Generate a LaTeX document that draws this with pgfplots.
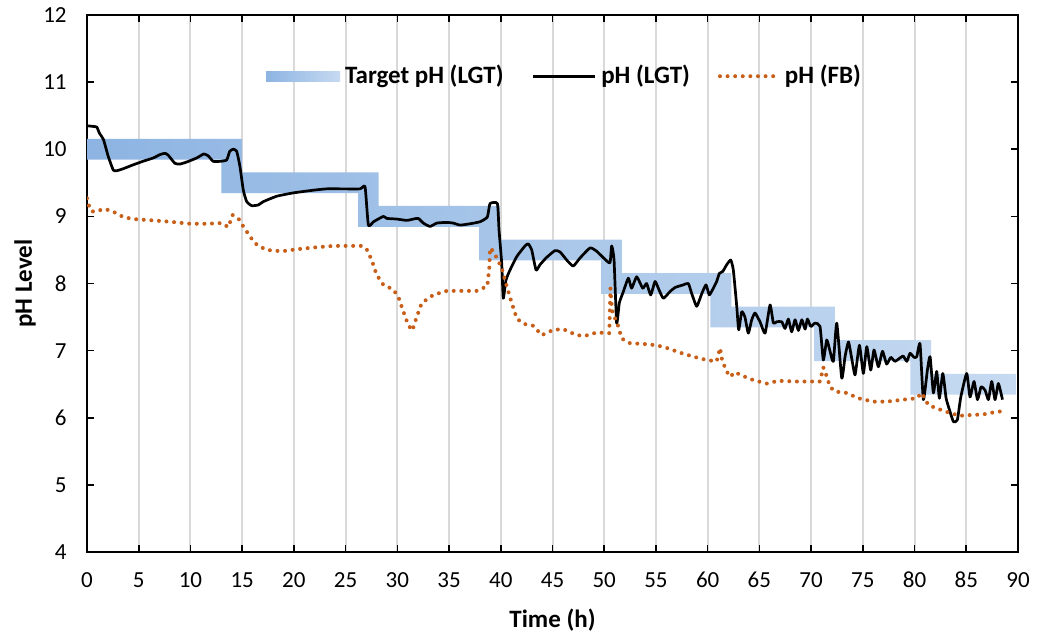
\documentclass[border=0pt]{standalone}
\usepackage{fontspec}
\setmainfont{Carlito}
\usepackage{pgfplots}
\pgfplotsset{compat=1.18}

\definecolor{bandL}{RGB}{141,180,226}
\definecolor{bandR}{RGB}{198,218,241}
\definecolor{fbOrange}{RGB}{200,95,25}
\definecolor{gridGray}{RGB}{217,217,217}

\begin{document}
\begin{tikzpicture}
\begin{axis}[
  scale only axis, width=465.5pt, height=268.5pt,
  xmin=0, xmax=90, ymin=4, ymax=12,
  xtick={0,5,...,90}, ytick={4,5,...,12},
  tick align=inside, major tick length=3.5pt,
  every tick/.style={black, line width=0.8pt},
  axis line style={black, line width=1pt},
  xmajorgrids,
  major x grid style={gridGray, line width=1pt},
  /pgf/number format/assume math mode=true,
  tick label style={font=\fontsize{11.5}{13}\selectfont, inner sep=0pt},
  xticklabel style={anchor=center, yshift=-14pt},
  yticklabel style={anchor=east, xshift=-10pt},
  label style={font=\bfseries\fontsize{12.5}{14}\selectfont},
  xlabel={Time (h)}, ylabel={pH Level},
  x label style={at={(axis description cs:0.5,-0.1266)}, anchor=center},
  y label style={at={(axis description cs:-0.0666,0.5)}, anchor=center},
  legend columns=3,
  legend style={at={(axis description cs:0.192,0.886)}, anchor=west,
    draw=none, fill=none, inner sep=0pt,
    font=\bfseries\fontsize{12.5}{14}\selectfont,
    nodes={inner sep=1pt},
    /tikz/every odd column/.append style={column sep=1.5pt},
    /tikz/every even column/.append style={column sep=13pt}},
]

% target pH band (stepped set-point, shaded left to right)
\addplot[draw=none, left color=bandL, right color=bandR,
  legend image code/.code={\shade[left color=bandL, right color=bandR] (0pt,-2.5pt) rectangle (37pt,2.5pt);}]
coordinates {
 (0,10.155) (15.0,10.155) (15.0,9.655) (28.2,9.655) (28.2,9.155)
 (39.9,9.155) (39.9,8.655) (51.7,8.655) (51.7,8.155) (62.3,8.155)
 (62.3,7.655) (72.3,7.655) (72.3,7.155) (81.6,7.155) (81.6,6.655)
 (89.8,6.655) (89.8,6.345) (79.6,6.345) (79.6,6.845) (70.3,6.845)
 (70.3,7.345) (60.25,7.345) (60.25,7.845) (49.7,7.845) (49.7,8.345)
 (37.9,8.345) (37.9,8.845) (26.2,8.845) (26.2,9.345) (13.0,9.345)
 (13.0,9.845) (0,9.845)
} -- cycle;
\addlegendentry{Target pH (LGT)}

% measured pH, LGT control
\addplot[black, line width=1.35pt, line join=round, mark=none, smooth, tension=0.3,
  legend image code/.code={\draw[black, line width=1.35pt] (0pt,0pt) -- (31pt,0pt);}]
coordinates {
 (0,10.35) (0.6,10.34) (0.95,10.33) (1.2,10.24) (1.6,10.14) (2.06,9.89)
 (2.54,9.69) (2.87,9.68) (3.5,9.71) (4.5,9.77) (5.4,9.82) (6.4,9.87)
 (7.06,9.92) (7.54,9.94) (7.86,9.91) (8.5,9.79) (9.0,9.78) (9.64,9.81)
 (10.6,9.87) (11.3,9.93) (11.73,9.90) (12.2,9.82) (12.86,9.82) (13.5,9.84)
 (13.8,9.97) (14.14,10.0) (14.47,9.97) (14.79,9.74) (15.11,9.39) (15.44,9.22)
 (15.92,9.16) (16.56,9.17) (17.05,9.22) (18.34,9.30) (19.95,9.35) (21.88,9.39)
 (23.17,9.41) (24.46,9.41) (26.39,9.41) (26.88,9.44) (27.2,8.87) (27.7,8.92)
 (28.65,9.00) (28.97,8.97) (29.94,8.96) (30.91,8.94) (31.55,8.96) (32.03,8.97)
 (32.51,8.90) (33.16,8.85) (33.81,8.90) (34.77,8.91) (35.4,8.90) (36.06,8.87)
 (37.03,8.89) (37.99,8.92) (38.7,8.99) (38.96,9.19) (39.67,9.19) (39.83,8.80)
 (40.09,8.30) (40.24,7.78) (40.5,8.05) (40.89,8.20) (41.54,8.40) (42.34,8.56)
 (42.66,8.59) (42.99,8.50) (43.41,8.20) (43.79,8.28) (44.44,8.39) (45.24,8.49)
 (45.73,8.47) (46.37,8.35) (47.0,8.26) (47.66,8.38) (48.63,8.53) (49.27,8.48)
 (50.08,8.36) (50.56,8.31) (50.72,8.56) (50.95,8.35) (51.2,7.41) (51.46,7.71)
 (51.85,7.88) (52.33,8.08) (52.65,7.93) (53.14,8.10) (53.72,7.93) (54.1,8.0)
 (54.49,7.83) (54.91,8.03) (55.23,7.93) (55.71,7.78) (56.36,7.88) (56.84,7.94)
 (57.65,7.98) (58.13,8.0) (58.46,7.85) (58.94,7.66) (59.43,7.85) (59.84,7.98)
 (60.16,7.83) (60.61,7.95) (60.87,8.03) (61.13,8.15) (61.46,8.18) (61.84,8.28)
 (62.23,8.35) (62.48,8.20) (62.81,7.66) (63.0,7.31) (63.29,7.58) (63.6,7.50)
 (63.93,7.26) (64.26,7.46) (64.58,7.56) (65.06,7.43) (65.55,7.26) (66.03,7.68)
 (66.35,7.41) (66.67,7.43) (67.16,7.43) (67.48,7.33) (67.8,7.47) (68.12,7.28)
 (68.45,7.46) (68.77,7.30) (69.1,7.46) (69.42,7.32) (69.64,7.47) (69.97,7.36)
 (70.38,7.41) (70.86,7.36) (71.18,6.86) (71.51,7.16) (71.83,6.99) (72.15,6.84)
 (72.48,7.41) (72.96,6.59) (73.28,6.91) (73.61,7.13) (73.93,6.88) (74.25,6.64)
 (74.67,7.08) (75.05,6.66) (75.38,7.06) (75.76,6.71) (76.08,7.01) (76.5,6.76)
 (76.9,6.99) (77.3,6.80) (77.7,6.90) (78.1,6.84) (78.5,6.88) (78.9,6.92)
 (79.25,6.84) (79.56,6.96) (79.95,6.90) (80.21,6.91) (80.53,7.10) (80.85,6.27)
 (81.24,6.71) (81.5,6.91) (81.82,6.37) (82.14,6.69) (82.4,6.29) (82.73,6.66)
 (83.05,6.29) (83.37,6.12) (83.76,5.94) (84.14,5.97) (84.47,6.31) (85.04,6.66)
 (85.36,6.31) (85.75,6.54) (86.08,6.27) (86.43,6.46) (86.82,6.41) (87.14,6.27)
 (87.46,6.54) (87.78,6.27) (88.1,6.51) (88.5,6.27)
};
\addlegendentry{pH (LGT)}

% measured pH, FB control
\addplot[fbOrange, line width=2pt, line cap=round, dash pattern=on 0pt off 3.8pt, mark=none,
  legend image code/.code={\draw[fbOrange, line width=2pt, line cap=round, dash pattern=on 0pt off 3.8pt] (1pt,0pt) -- (30pt,0pt);}]
coordinates {
 (0,9.27) (0.29,9.10) (0.61,9.07) (1.74,9.11) (2.54,9.07) (3.51,8.99)
 (4.48,8.96) (6.41,8.94) (8.02,8.92) (9.96,8.89) (11.57,8.89) (13.02,8.90)
 (13.66,8.84) (14.08,9.02) (14.63,8.97) (15.11,8.85) (15.76,8.70) (16.24,8.60)
 (16.72,8.55) (17.37,8.50) (18.82,8.48) (20.27,8.51) (22.2,8.54) (23.81,8.56)
 (26.55,8.56) (27.04,8.51) (27.52,8.35) (28.0,8.13) (28.65,7.98) (29.61,7.91)
 (30.1,7.80) (30.52,7.61) (31.06,7.38) (31.45,7.30) (31.87,7.50) (32.36,7.71)
 (33.48,7.83) (34.77,7.89) (37.67,7.89) (38.7,7.96) (38.9,8.25) (38.96,8.53)
 (39.28,8.48) (39.61,8.38) (40.09,8.23) (40.5,8.00) (41.06,7.71) (41.54,7.48)
 (42.18,7.40) (43.15,7.37) (43.96,7.23) (45.08,7.31) (46.05,7.32) (47.34,7.23)
 (48.14,7.22) (49.27,7.27) (50.49,7.26) (50.6,7.93) (50.75,7.60) (51.36,7.36)
 (51.69,7.18) (52.5,7.11) (53.78,7.10) (55.07,7.08) (56.04,7.04) (57.33,6.97)
 (58.61,6.91) (59.91,6.86) (60.87,6.84) (61.2,7.04) (61.4,6.85) (61.84,6.69)
 (62.16,6.61) (62.65,6.68) (63.13,6.64) (64.42,6.56) (65.71,6.51) (66.83,6.55)
 (68.61,6.54) (70.86,6.54) (71.18,6.75) (71.5,6.62) (71.83,6.46) (72.31,6.39)
 (73.44,6.37) (74.57,6.29) (76.02,6.24) (77.31,6.24) (78.92,6.27) (80.21,6.29)
 (80.69,6.37) (81.33,6.19) (82.14,6.14) (83.43,6.07) (84.4,6.03) (85.36,6.04)
 (86.65,6.05) (87.62,6.08) (88.58,6.10)
};
\addlegendentry{pH (FB)}
\end{axis}
\pgfresetboundingbox
\path[use as bounding box] ([shift={(-43.5pt,-44pt)}]current axis.south west) rectangle ([shift={(10pt,7.5pt)}]current axis.north east);
\end{tikzpicture}
\end{document}
